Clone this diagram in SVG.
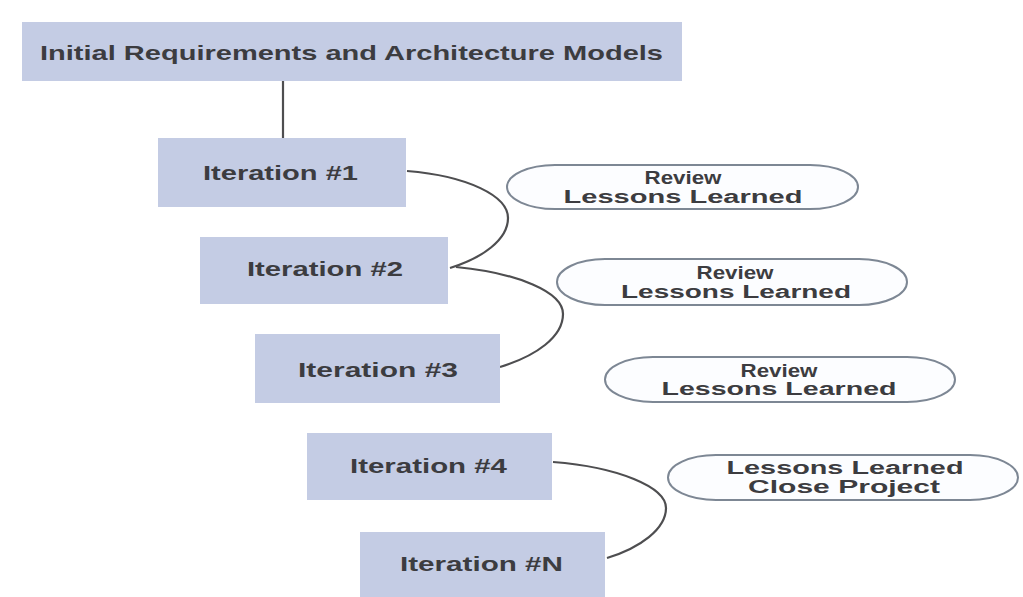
<svg xmlns="http://www.w3.org/2000/svg" width="1023" height="597" viewBox="0 0 1023 597">
<style>
.box{fill:#c4cce4;}
.pill{fill:#fcfdff;stroke:#7d8794;stroke-width:2;}
.t{font-family:"Liberation Sans",Arial,sans-serif;font-weight:bold;fill:#3c3c40;}
.bt{font-size:21px;}
.pt{font-size:18px;text-anchor:middle;}
.con{fill:none;stroke:#4e4e50;stroke-width:2.2;}
</style>
<rect width="1023" height="597" fill="#ffffff"/>
<g id="connectors">
<line class="con" x1="283" y1="81" x2="283" y2="139"/>
<path class="con" d="M407,171 C468,176 508,196 508,218 C508,240 482,258 450,268"/>
<path class="con" d="M456,267 C518,273 563,292 563,314 C563,337 536,356 500,367"/>
<path class="con" d="M553,462 C618,467 666,487 666,508 C666,529 640,548 607,558"/>
</g>
<g id="init">
<rect class="box" x="22" y="22" width="660" height="59"/>
<text class="t bt" x="40" y="59.5" textLength="623" lengthAdjust="spacingAndGlyphs">Initial Requirements and Architecture Models</text>
</g>
<g id="it1">
<rect class="box" x="158" y="138" width="248" height="69"/>
<text class="t bt" x="203" y="179.5" textLength="155" lengthAdjust="spacingAndGlyphs">Iteration #1</text>
</g>
<g id="it2">
<rect class="box" x="200" y="237" width="248" height="67"/>
<text class="t bt" x="247" y="275.5" textLength="156" lengthAdjust="spacingAndGlyphs">Iteration #2</text>
</g>
<g id="it3">
<rect class="box" x="255" y="334" width="245" height="69"/>
<text class="t bt" x="298" y="376.5" textLength="160" lengthAdjust="spacingAndGlyphs">Iteration #3</text>
</g>
<g id="it4">
<rect class="box" x="307" y="433" width="245" height="67"/>
<text class="t bt" x="350" y="472.5" textLength="157" lengthAdjust="spacingAndGlyphs">Iteration #4</text>
</g>
<g id="itN">
<rect class="box" x="360" y="532" width="245" height="65"/>
<text class="t bt" x="400" y="570.5" textLength="163" lengthAdjust="spacingAndGlyphs">Iteration #N</text>
</g>
<g id="rev1">
<rect class="pill" x="507" y="165" width="351" height="44" rx="48" ry="22"/>
<text class="t pt" x="683" y="183.5" textLength="77" lengthAdjust="spacingAndGlyphs">Review</text>
<text class="t pt" x="683" y="202.5" textLength="239" lengthAdjust="spacingAndGlyphs">Lessons Learned</text>
</g>
<g id="rev2">
<rect class="pill" x="557" y="259" width="350" height="46" rx="48" ry="23"/>
<text class="t pt" x="735" y="279" textLength="77" lengthAdjust="spacingAndGlyphs">Review</text>
<text class="t pt" x="736" y="298" textLength="230" lengthAdjust="spacingAndGlyphs">Lessons Learned</text>
</g>
<g id="rev3">
<rect class="pill" x="605" y="357" width="350" height="45" rx="48" ry="22.5"/>
<text class="t pt" x="779" y="377" textLength="77" lengthAdjust="spacingAndGlyphs">Review</text>
<text class="t pt" x="779" y="395" textLength="235" lengthAdjust="spacingAndGlyphs">Lessons Learned</text>
</g>
<g id="close">
<rect class="pill" x="668" y="455" width="350" height="45" rx="48" ry="22.5"/>
<text class="t pt" x="845" y="474" textLength="237" lengthAdjust="spacingAndGlyphs">Lessons Learned</text>
<text class="t pt" x="844" y="493" textLength="192" lengthAdjust="spacingAndGlyphs">Close Project</text>
</g>
</svg>
